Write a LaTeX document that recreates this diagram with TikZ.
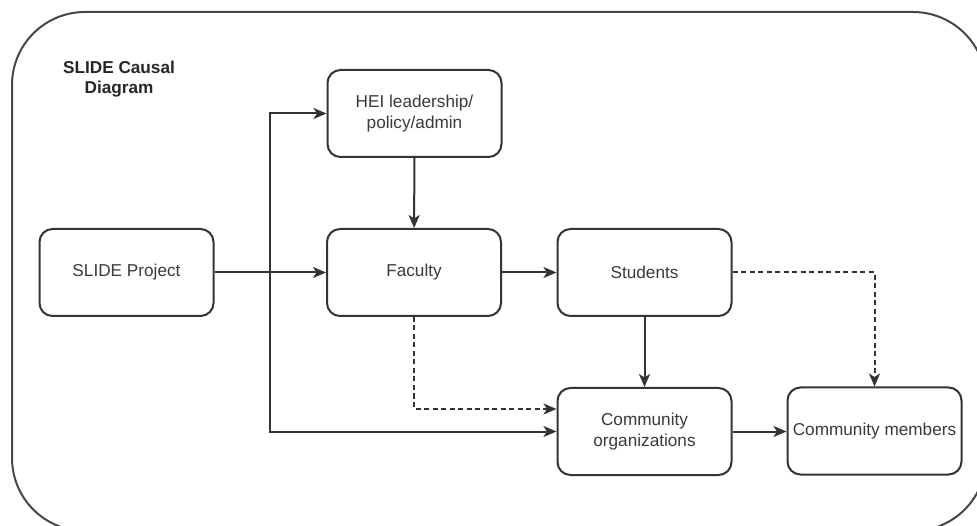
\documentclass[tikz,border=0pt]{standalone}
\usepackage{fontspec}
\setmainfont{Liberation Sans}
\usetikzlibrary{arrows.meta}
\definecolor{linec}{HTML}{333333}
\definecolor{textc}{HTML}{3A3A3A}
\tikzset{
  box/.style={draw=linec, line width=2pt, rounded corners=13pt, minimum width=174pt, minimum height=87pt, align=center, text=textc, font=\fontsize{17.2}{20.5}\selectfont, inner sep=1pt},
  arr/.style={draw=linec, line width=2pt, -{Stealth[length=13pt,width=11pt,inset=3.5pt]}},
  dasharr/.style={arr, dash pattern=on 5pt off 3.5pt},
}
\begin{document}
\begin{tikzpicture}[x=1pt,y=-1pt]
\useasboundingbox (0,0) rectangle (977,526);
\begin{scope}
\clip (0,0) rectangle (977,526);
\draw[draw=linec!90, line width=2pt, rounded corners=73pt] (12,12) rectangle (986,531);
\end{scope}
\node[align=center, font=\bfseries\fontsize{17.2}{20.5}\selectfont, text=black!85] (title) at (119,79) {SLIDE Causal\\Diagram};
\node[box] (slide) at (126.5,272.5) {SLIDE Project};
\node[box] (hei) at (414.5,113.5) {HEI leadership/\\policy/admin};
\node[box] (fac) at (414,272.5) {Faculty};
\node[box] (stu) at (644.5,272.5) {Students};
\node[box] (org) at (644.5,431.5) {Community\\organizations};
\node[box] (mem) at (874.5,431) {Community members};
\coordinate (trunk) at (270,272.5);
\draw[arr] (slide.east) -- (fac.west);
\draw[arr] (trunk) |- (hei.west);
\draw[arr] (trunk) |- (org.west);
\draw[arr] (hei) -- (fac);
\draw[arr] (fac) -- (stu);
\draw[arr] (stu) -- (org);
\draw[arr] (org.east) -- (org.east -| mem.west);
\draw[dasharr] (fac.south) |- ([yshift=22.5pt]org.west);
\draw[dasharr] (stu.east) -| (mem.north);
\end{tikzpicture}
\end{document}
